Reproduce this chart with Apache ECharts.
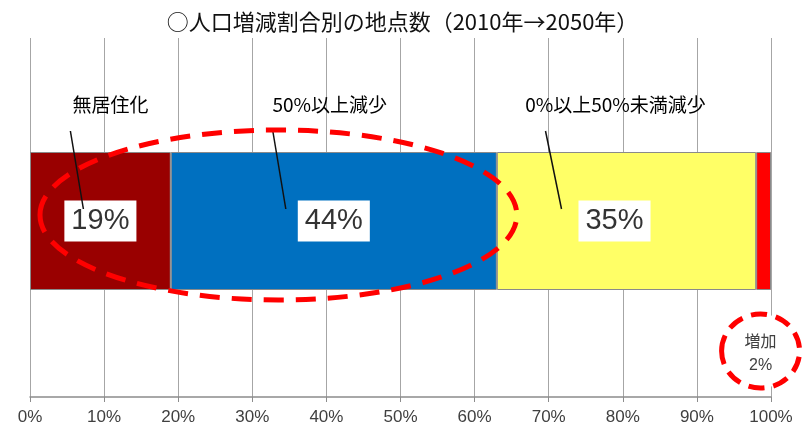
<!DOCTYPE html>
<html>
<head>
<meta charset="utf-8">
<script src="https://cdn.jsdelivr.net/npm/echarts@6/dist/echarts.min.js"></script>
<style>
  html, body { margin: 0; padding: 0; background: #fff; }
  #chart { width: 805px; height: 428px; }
</style>
</head>
<body>
<div id="chart"></div>
<script>
// 人口増減割合別の地点数 (2010年→2050年)
const categories = ['無居住化', '50%以上減少', '0%以上50%未満減少', '増加'];
const shares = [19, 44, 35, 2];
const tickLabels = ['0%', '10%', '20%', '30%', '40%', '50%', '60%', '70%', '80%', '90%', '100%'];
const segmentColors = ['#990000', '#0070C0', '#FFFF66', '#FF0000'];

const FONT = "'Liberation Sans','Noto Sans CJK JP',sans-serif";
const CJK = "'Noto Sans CJK JP','Liberation Sans',sans-serif";

const chart = echarts.init(document.getElementById('chart'), null, { renderer: 'canvas' });

const valueLabelOffsets = [[0, 0], [0, 0], [-12, 0], [0, 0]];

const series = categories.map((name, i) => ({
  name: name,
  type: 'bar',
  stack: 'total',
  xAxisIndex: 1,
  yAxisIndex: 1,
  barWidth: 138,
  data: [shares[i]],
  itemStyle: { color: segmentColors[i], borderColor: '#8a8a8a', borderWidth: 1 },
  label: {
    show: i < 3,
    position: 'inside',
    formatter: '{c}%',
    offset: valueLabelOffsets[i],
    fontFamily: FONT,
    fontSize: 29,
    color: '#333',
    backgroundColor: '#fff',
    padding: [7, 7, 5, 7]
  },
  emphasis: { disabled: true }
}));

chart.setOption({
  animation: false,
  title: {
    text: '○人口増減割合別の地点数（2010年→2050年）',
    left: 'center',
    top: 6,
    textStyle: { fontFamily: CJK, fontSize: 22, fontWeight: 'normal', color: '#111' }
  },
  grid: [
    // frame with the percentage scale and gridlines
    { left: 30, right: 34, top: 38, bottom: 31, containLabel: false },
    // band holding the stacked bar
    { left: 30, right: 34, top: 45, bottom: 31, containLabel: false }
  ],
  xAxis: [
    {
      gridIndex: 0,
      type: 'value',
      min: 0,
      max: 100,
      interval: 10,
      axisLine: { show: true, lineStyle: { color: '#8c8c8c', width: 1.5 } },
      axisTick: { show: true, length: 5, lineStyle: { color: '#8c8c8c' } },
      axisLabel: {
        formatter: v => tickLabels[Math.round(v / 10)],
        fontFamily: FONT,
        fontSize: 17,
        color: '#404040',
        margin: 12
      },
      splitLine: { show: true, lineStyle: { color: '#a6a6a6', width: 1 } }
    },
    { gridIndex: 1, type: 'value', min: 0, max: 100, show: false, splitLine: { show: false } }
  ],
  yAxis: [
    { gridIndex: 0, type: 'category', data: ['地点数'], show: false },
    { gridIndex: 1, type: 'category', data: ['地点数'], show: false }
  ],
  series: series
});

// Annotations placed from the axis scale: segment names, leader lines, highlight rings
function drawAnnotations() {
  const px = v => chart.convertToPixel({ xAxisIndex: 1, yAxisIndex: 1 }, [v, 0]);
  const starts = [];
  let acc = 0;
  shares.forEach(s => { starts.push(acc); acc += s; });
  const centre = i => px(starts[i] + shares[i] / 2)[0];
  const barMid = px(0)[1];

  const nameShift = [10, -4, -11];
  const leader = [[-30, -17], [-61, -48], [-81, -65]];
  const elements = [];

  for (let i = 0; i < 3; i++) {
    const cx = centre(i);
    elements.push({
      type: 'text',
      x: cx + nameShift[i],
      y: barMid - 116,
      style: {
        text: categories[i],
        font: '19px ' + CJK,
        fill: '#000',
        align: 'center',
        verticalAlign: 'middle'
      },
      z: 10
    });
    elements.push({
      type: 'line',
      shape: { x1: cx + leader[i][0], y1: barMid - 90, x2: cx + leader[i][1], y2: barMid - 12 },
      style: { stroke: '#111', lineWidth: 1.5 },
      z: 10
    });
  }

  // Ring around the two largest-decline groups
  const left = px(0)[0] + 10;
  const right = px(starts[1] + shares[1])[0] + 20;
  elements.push({
    type: 'ellipse',
    shape: { cx: (left + right) / 2, cy: barMid - 6, rx: (right - left) / 2, ry: 85 },
    style: { fill: null, stroke: '#ff0000', lineWidth: 5, lineDash: [20, 12] },
    z: 20
  });

  // Increase group: label below the bar inside a dashed ring
  const incX = px(starts[3] + shares[3] / 2)[0] - 3;
  const incY = barMid + 130;
  elements.push({
    type: 'ellipse',
    shape: { cx: incX, cy: incY, rx: 39, ry: 37 },
    style: { fill: '#fff', stroke: '#ff0000', lineWidth: 5, lineDash: [16, 9] },
    z: 20
  });
  elements.push({
    type: 'text',
    x: incX,
    y: incY - 10,
    style: {
      text: categories[3],
      font: '16px ' + CJK,
      fill: '#404040',
      align: 'center',
      verticalAlign: 'middle'
    },
    z: 21
  });
  elements.push({
    type: 'text',
    x: incX,
    y: incY + 15,
    style: {
      text: shares[3] + '%',
      font: '16px ' + FONT,
      fill: '#404040',
      align: 'center',
      verticalAlign: 'middle'
    },
    z: 21
  });

  chart.setOption({ graphic: { elements: elements } });
}

drawAnnotations();
</script>
</body>
</html>
